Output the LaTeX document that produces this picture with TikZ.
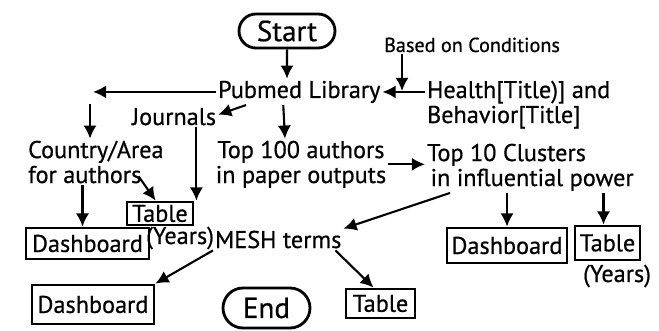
\documentclass[tikz,border=0pt]{standalone}
\usepackage{fontspec}
\setmainfont{PT Sans}[FakeBold=0.6]
\usetikzlibrary{arrows.meta,shapes.misc}
\tikzset{>={Latex[length=7.5pt,width=7.5pt]},
  txt/.style={font=\fontsize{13.8}{14.2}\selectfont, inner sep=1pt, align=left},
  small/.style={font=\fontsize{11.5}{12}\selectfont, inner sep=1pt},
  box/.style={draw, line width=1.6pt, inner sep=0pt, font=\fontsize{13.8}{14.2}\selectfont},
  term/.style={draw, rounded rectangle, line width=1.6pt, inner sep=0pt, font=\fontsize{16.5}{17}\selectfont},
  flow/.style={->, line width=1.2pt}}

\begin{document}
\begin{tikzpicture}[x=0.02cm,y=-0.02cm]
  \useasboundingbox (0,0) rectangle (659,331);
  % start and end
  \node[term,minimum width=1.92cm,minimum height=0.68cm] (start) at (287,31) {Start};
  \node[term,minimum width=1.74cm,minimum height=0.8cm] (endn) at (266.5,308) {End};
  % texts (two-line nodes sit on their last line)
  \node[txt,anchor=base west] (pubmed) at (216,98) {Pubmed Library};
  \node[small,anchor=base west] (based) at (382,52) {Based on Conditions};
  \node[txt,anchor=base west] (health) at (425,123) {Health[Title)] and\\Behavior[Title]};
  \node[txt,anchor=base west] (journals) at (130,125) {Journals};
  \node[txt,anchor=base west] (country) at (26,183) {Country/Area\\for authors};
  \node[txt,anchor=base,align=center] (topauthors) at (301,183) {Top 100 authors\\in paper outputs};
  \node[txt,anchor=base west] (topclusters) at (425,186) {Top 10 Clusters\\\hspace*{2pt}in influential power};
  \node[txt,anchor=base west] (mesh) at (213,248) {MESH terms};
  \node[txt,anchor=base west] (yearsj) at (144,244) {(Years)};
  \node[txt,anchor=base west] (yearsk) at (581,282) {(Years)};
  % boxes
  \node[box,minimum width=1.32cm,minimum height=0.46cm] (tabj) at (160,213.5) {Table};
  \node[box,minimum width=2.46cm,minimum height=0.62cm] (dashc) at (87.5,243.5) {Dashboard};
  \node[box,minimum width=2.44cm,minimum height=0.78cm] (dashm) at (93,304.5) {Dashboard};
  \node[box,minimum width=1.38cm,minimum height=0.58cm] (tabm) at (380.5,303.5) {Table};
  \node[box,minimum width=2.4cm,minimum height=0.7cm] (dashk) at (507,245.5) {Dashboard};
  \node[box,minimum width=1.3cm,minimum height=0.68cm] (tabk) at (607.5,243) {Table};
  % helper points
  \coordinate (lft) at (93,91);
  \coordinate (cdown) at (90,104);
  \coordinate (join) at (402,91);
  % connectors
  \draw[flow] (start) -- (start |- pubmed.north);
  \draw[flow] (pubmed.west) -- (pubmed.west -| lft);
  \draw[flow] (cdown) -- (cdown |- country.north);
  \draw[flow] ([xshift=30*0.02cm]pubmed.south west) -- ([yshift=2*0.02cm]journals.east);
  \draw[flow] ([xshift=-16*0.02cm]pubmed.south) -- ([xshift=-16*0.02cm]topauthors.north);
  \draw[flow] (join |- based.south) -- (join);
  \draw[flow] (health.west |- pubmed.east) -- (pubmed.east);
  \draw[flow] ([shift={(-27*0.02cm,9*0.02cm)}]country.south east) -- ([xshift=30*0.02cm]tabj.north west);
  \draw[flow] ([xshift=2*0.02cm]tabj.north east |- journals.south) -- ([xshift=2*0.02cm]tabj.north east);
  \draw[flow] ([xshift=-5*0.02cm]dashc.north |- country.south) -- ([xshift=-5*0.02cm]dashc.north);
  \draw[flow] (topauthors.east) -- (topauthors.east -| topclusters.west);
  \draw[flow] ([xshift=25*0.02cm]topclusters.south west) -- (mesh.north east);
  \draw[flow] (mesh.south west) -- (dashm.north east);
  \draw[flow] ([xshift=-8*0.02cm]mesh.south east) -- ([xshift=-7*0.02cm]tabm.north);
  \draw[flow] (dashk.north |- topclusters.south) -- (dashk.north);
  \draw[flow] ([xshift=-4*0.02cm]tabk.north |- topclusters.south) -- ([xshift=-4*0.02cm]tabk.north);
\end{tikzpicture}
\end{document}
